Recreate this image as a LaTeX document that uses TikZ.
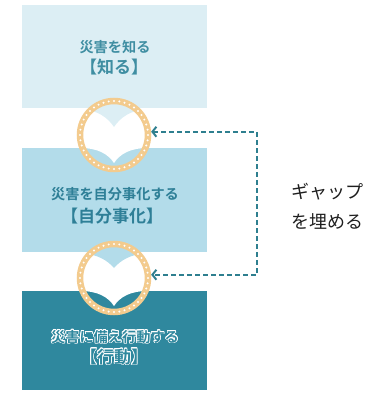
\documentclass[tikz,border=0pt]{standalone}
\usepackage{fontspec}
\usepackage{contour}
\usetikzlibrary{arrows.meta}
\newfontfamily\jp{Noto Sans CJK JP}[BoldFont={Noto Sans CJK JP Bold}]
\definecolor{boxA}{HTML}{DCEEF4}
\definecolor{boxB}{HTML}{B3DCEA}
\definecolor{boxC}{HTML}{2F889E}
\definecolor{txtA}{HTML}{3F8EA2}
\definecolor{txtB}{HTML}{2E7F97}
\definecolor{ringc}{HTML}{F3CB8E}
\definecolor{dashc}{HTML}{2E7F8F}
\contourlength{0.7pt}
\tikzset{
  stage/.style={draw=none, inner sep=0pt, minimum width=185pt},
  ringnode/.style={circle, draw=ringc, line width=6.5pt, minimum size=68pt, inner sep=0pt},
  smalltxt/.style={font=\jp\bfseries\fontsize{14.2}{15}\selectfont, inner sep=0pt},
  bigtxt/.style={font=\jp\bfseries\fontsize{17}{19}\selectfont, inner sep=0pt},
  gapline/.style={draw=dashc, line width=2pt, dash pattern=on 5pt off 3pt,
    {Straight Barb[length=4pt,width=10pt,line width=2pt]}-{Straight Barb[length=4pt,width=10pt,line width=2pt]}},
}
\begin{document}
\begin{tikzpicture}[x=1pt,y=-1pt]
\useasboundingbox (0,0) rectangle (389,396);
% boxes
\node[stage, fill=boxA, minimum height=103pt] (b1) at (114.5,56.5) {};
\node[stage, fill=boxB, minimum height=104pt] (b2) at (114.5,200) {};
\node[stage, fill=boxC, minimum height=99pt] (b3) at (114.5,340.5) {};
% chevrons inside circles
\begin{scope}
  \clip (114,135) circle (34pt);
  \fill[boxA] (70,100) -- (70,108) -- (80,109) .. controls (98,110) and (108,118) .. (114,127)
     .. controls (120,118) and (130,110) .. (148,109) -- (158,108) -- (158,100) -- cycle;
  \fill[white] (70,140) -- (70,148) -- (80,148) .. controls (98,148) and (108,154) .. (114,163)
     .. controls (120,154) and (130,148) .. (148,148) -- (158,148) -- (158,140) -- cycle;
\end{scope}
\begin{scope}
  \clip (114,278) circle (34pt);
  \fill[boxB] (70,245) -- (70,252) -- (80,253) .. controls (98,254) and (108,261) .. (114,268)
     .. controls (120,261) and (130,254) .. (148,253) -- (158,252) -- (158,245) -- cycle;
  \fill[white] (70,283) -- (70,291) -- (80,291) .. controls (98,291) and (108,297) .. (114,306)
     .. controls (120,297) and (130,291) .. (148,291) -- (158,291) -- (158,283) -- cycle;
\end{scope}
% rings
\node[ringnode] (c1) at (114,135) {};
\node[ringnode] (c2) at (114,278) {};
\foreach \a in {0,9,...,351} {
  \fill[white] (c1.center) ++(\a:34pt) circle (1.1pt);
  \fill[white] (c2.center) ++(\a:34pt) circle (1.1pt);
}
% texts
\node[smalltxt, text=txtA] (t1a) at (115,47) {災害を知る};
\node[bigtxt, text=txtA] (t1b) at (114,67) {【知る】};
\node[smalltxt, text=txtB] (t2a) at (115,194) {災害を自分事化する};
\node[bigtxt, text=txtB] (t2b) at (112,216) {【自分事化】};
\node[smalltxt, text=boxC] (t3a) at (115,337) {\contour{white}{災害に備え行動する}};
\node[bigtxt, text=boxC] (t3b) at (114,357) {\contour{white}{【行動】}};
% gap connector
\coordinate (k) at (257,0);
\draw[gapline] (c1.5) -- (c1.5 -| k) -- (c2.5 -| k) -- (c2.5);
\node[anchor=west, align=left, inner sep=0pt, text=black!88,
      font=\jp\fontsize{18}{30}\selectfont] (gap) at (291,206) {ギャップ\\を埋める};
\end{tikzpicture}
\end{document}
